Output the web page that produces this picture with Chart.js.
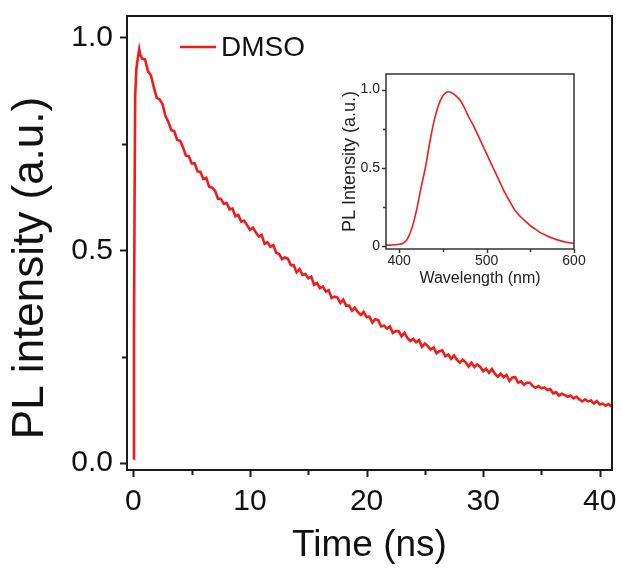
<!DOCTYPE html>
<html>
<head>
<meta charset="utf-8">
<script src="https://cdn.jsdelivr.net/npm/chart.js@4.4.0/dist/chart.umd.min.js"></script>
<style>
  html, body { margin: 0; padding: 0; background: #fff; }
  #wrap { position: relative; width: 621px; height: 572px; }
  #mainChart { position: absolute; left: 0; top: 0; }
  #insetChart { position: absolute; left: 330px; top: 60px; }
</style>
</head>
<body>
<div id="wrap">
  <canvas id="mainChart" width="621" height="572"></canvas>
  <canvas id="insetChart" width="270" height="240"></canvas>
</div>
<script>
// Main panel: PL decay in DMSO (noise included)
const timeNs = [
  0, 0.05, 0.1, 0.15, 0.25, 0.4, 0.5, 0.6, 0.75,
  1, 1.25, 1.5, 1.75, 2, 2.25, 2.5, 2.75, 3, 3.25, 3.5, 3.75, 4, 4.25, 4.5, 4.75,
  5, 5.25, 5.5, 5.75, 6, 6.25, 6.5, 6.75, 7, 7.25, 7.5, 7.75, 8, 8.25, 8.5, 8.75,
  9, 9.25, 9.5, 9.75, 10, 10.25, 10.5, 10.75, 11, 11.25, 11.5, 11.75, 12, 12.25, 12.5, 12.75,
  13, 13.25, 13.5, 13.75, 14, 14.25, 14.5, 14.75, 15, 15.25, 15.5, 15.75, 16, 16.25, 16.5, 16.75,
  17, 17.25, 17.5, 17.75, 18, 18.25, 18.5, 18.75, 19, 19.25, 19.5, 19.75, 20, 20.25, 20.5, 20.75,
  21, 21.25, 21.5, 21.75, 22, 22.25, 22.5, 22.75, 23, 23.25, 23.5, 23.75, 24, 24.25, 24.5, 24.75,
  25, 25.25, 25.5, 25.75, 26, 26.25, 26.5, 26.75, 27, 27.25, 27.5, 27.75, 28, 28.25, 28.5, 28.75,
  29, 29.25, 29.5, 29.75, 30, 30.25, 30.5, 30.75, 31, 31.25, 31.5, 31.75, 32, 32.25, 32.5, 32.75,
  33, 33.25, 33.5, 33.75, 34, 34.25, 34.5, 34.75, 35, 35.25, 35.5, 35.75, 36, 36.25, 36.5, 36.75,
  37, 37.25, 37.5, 37.75, 38, 38.25, 38.5, 38.75, 39, 39.25, 39.5, 39.75, 40, 40.25, 40.5, 40.75, 41
];
const plIntensity = [
  0.010, 0.300, 0.620, 0.860, 0.925, 0.955, 0.972, 0.958, 0.950,
  0.948, 0.920, 0.911, 0.883, 0.858, 0.854, 0.843, 0.815, 0.801, 0.782, 0.780, 0.759, 0.757, 0.742, 0.722, 0.721,
  0.704, 0.704, 0.685, 0.684, 0.667, 0.670, 0.649, 0.647, 0.640, 0.621, 0.621, 0.609, 0.611, 0.596, 0.598, 0.580,
  0.583, 0.567, 0.569, 0.559, 0.548, 0.553, 0.542, 0.532, 0.536, 0.515, 0.519, 0.508, 0.512, 0.494, 0.491, 0.479,
  0.483, 0.480, 0.465, 0.465, 0.448, 0.456, 0.442, 0.444, 0.434, 0.438, 0.419, 0.423, 0.411, 0.415, 0.403, 0.406,
  0.388, 0.391, 0.389, 0.376, 0.384, 0.370, 0.370, 0.358, 0.365, 0.355, 0.348, 0.355, 0.343, 0.344, 0.330, 0.338,
  0.336, 0.321, 0.323, 0.316, 0.321, 0.306, 0.310, 0.310, 0.298, 0.306, 0.294, 0.287, 0.292, 0.284, 0.289, 0.273,
  0.281, 0.275, 0.267, 0.272, 0.258, 0.263, 0.265, 0.251, 0.255, 0.245, 0.253, 0.243, 0.236, 0.243, 0.237, 0.227,
  0.236, 0.226, 0.232, 0.226, 0.216, 0.222, 0.212, 0.221, 0.210, 0.203, 0.210, 0.202, 0.207, 0.193, 0.201, 0.202,
  0.189, 0.192, 0.184, 0.189, 0.189, 0.181, 0.177, 0.181, 0.176, 0.178, 0.172, 0.174, 0.164, 0.167, 0.159, 0.163,
  0.160, 0.156, 0.159, 0.152, 0.156, 0.150, 0.145, 0.150, 0.145, 0.147, 0.140, 0.146, 0.138, 0.140, 0.135, 0.139, 0.133
];
const xMajor = [0, 10, 20, 30, 40];
const xMinor = [5, 15, 25, 35];
const yMajor = [0, 0.5, 1.0];
const yMinor = [0.25, 0.75];

// Inset: PL spectrum
const wavelength = [
  385, 390, 395, 400, 405, 410, 415, 420, 425, 430, 435, 440, 445, 450, 455, 460, 465,
  470, 475, 480, 485, 490, 495, 500, 505, 510, 515, 520, 525, 530, 535, 540, 545, 550,
  555, 560, 565, 570, 575, 580, 585, 590, 595, 600
];
const spectrum = [
  0.005, 0.005, 0.007, 0.010, 0.018, 0.050, 0.120, 0.230, 0.370, 0.500, 0.660, 0.800,
  0.900, 0.960, 0.985, 0.980, 0.960, 0.930, 0.880, 0.820, 0.770, 0.710, 0.650, 0.590,
  0.530, 0.470, 0.410, 0.350, 0.300, 0.250, 0.210, 0.180, 0.155, 0.130, 0.110, 0.090,
  0.075, 0.062, 0.050, 0.040, 0.032, 0.025, 0.020, 0.016
];
const insetXMajor = [400, 500, 600];
const insetXMinor = [450, 550];
const insetYMajor = [0, 0.5, 1.0];
const insetYMinor = [0.25, 0.75];

const RED = '#f21b1b';
const INK = '#111';
const FONT = "'Liberation Sans', Arial, sans-serif";

// box around the plot area + outward ticks (major and minor)
const frameTicks = {
  id: 'frameTicks',
  afterDatasetsDraw(chart, args, o) {
    const {ctx, chartArea: a, scales: {x, y}} = chart;
    ctx.save();
    ctx.strokeStyle = o.color;
    ctx.lineWidth = o.width;
    const mark = (scale, vals, len) => vals.forEach(v => {
      const p = Math.round(scale.getPixelForValue(v)) + 0.5;
      ctx.beginPath();
      if (scale.isHorizontal()) { ctx.moveTo(p, a.bottom); ctx.lineTo(p, a.bottom + len); }
      else { ctx.moveTo(a.left, p); ctx.lineTo(a.left - len, p); }
      ctx.stroke();
    });
    mark(x, o.xMajor, o.major); mark(x, o.xMinor, o.minor);
    mark(y, o.yMajor, o.major); mark(y, o.yMinor, o.minor);
    ctx.strokeRect(a.left, a.top, a.right - a.left, a.bottom - a.top);
    ctx.restore();
  }
};

// y title and legend for the main panel
const mainDecor = {
  id: 'mainDecor',
  afterDraw(chart) {
    const {ctx} = chart;
    ctx.save();
    ctx.fillStyle = INK;
    ctx.font = '44px ' + FONT;
    ctx.textAlign = 'center';
    ctx.textBaseline = 'middle';
    ctx.translate(31, 268);
    ctx.rotate(-Math.PI / 2);
    ctx.fillText('PL intensity (a.u.)', 0, 0);
    ctx.restore();

    ctx.save();
    ctx.strokeStyle = RED;
    ctx.lineWidth = 2.5;
    ctx.beginPath(); ctx.moveTo(180, 47); ctx.lineTo(216, 47); ctx.stroke();
    ctx.fillStyle = INK;
    ctx.font = '28px ' + FONT;
    ctx.textBaseline = 'middle';
    ctx.fillText(chart.data.datasets[0].label, 221, 48);
    ctx.restore();
  }
};

const noPad = s => { s.paddingLeft = 0; s.paddingRight = 0; s.paddingTop = 0; s.paddingBottom = 0; };

new Chart(document.getElementById('mainChart'), {
  type: 'line',
  data: {
    datasets: [{
      label: 'DMSO',
      data: timeNs.map((t, i) => ({x: t, y: plIntensity[i]})),
      borderColor: RED,
      borderWidth: 2.6,
      pointRadius: 0,
      tension: 0,
      fill: false
    }]
  },
  options: {
    responsive: false,
    animation: false,
    layout: {padding: {top: 16, right: 9, left: 0, bottom: 0}},
    scales: {
      x: {
        type: 'linear', min: -0.55, max: 41.05,
        afterBuildTicks: s => { s.ticks = xMajor.map(v => ({value: v})); },
        afterFit: s => { s.height = 102; noPad(s); },
        grid: {display: false, drawTicks: false},
        border: {display: false},
        ticks: {color: INK, padding: 14, maxRotation: 0, font: {family: FONT, size: 30}},
        title: {display: true, text: 'Time (ns)', color: INK, padding: {top: 0, bottom: 4},
                font: {family: FONT, size: 37}}
      },
      y: {
        type: 'linear', min: -0.016, max: 1.05,
        afterBuildTicks: s => { s.ticks = yMajor.map(v => ({value: v})); },
        afterFit: s => { s.width = 127; noPad(s); },
        grid: {display: false, drawTicks: false},
        border: {display: false},
        ticks: {color: INK, padding: 14, font: {family: FONT, size: 30},
                callback: v => v.toFixed(1)}
      }
    },
    plugins: {
      legend: {display: false},
      tooltip: {enabled: false},
      frameTicks: {color: '#1a1a1a', width: 2, major: 7, minor: 5,
                   xMajor, xMinor, yMajor, yMinor}
    }
  },
  plugins: [frameTicks, mainDecor]
});

new Chart(document.getElementById('insetChart'), {
  type: 'line',
  data: {
    datasets: [{
      label: 'PL spectrum',
      data: wavelength.map((w, i) => ({x: w, y: spectrum[i]})),
      borderColor: RED,
      borderWidth: 1.6,
      pointRadius: 0,
      tension: 0.3,
      fill: false
    }]
  },
  options: {
    responsive: false,
    animation: false,
    layout: {padding: {top: 14, right: 26, left: 0, bottom: 0}},
    scales: {
      x: {
        type: 'linear', min: 385, max: 600,
        afterBuildTicks: s => { s.ticks = insetXMajor.map(v => ({value: v})); },
        afterFit: s => { s.height = 51; noPad(s); },
        grid: {display: false, drawTicks: false},
        border: {display: false},
        ticks: {color: '#222', padding: 4, maxRotation: 0, font: {family: FONT, size: 14}},
        title: {display: true, text: 'Wavelength (nm)', color: '#222', padding: {top: 0, bottom: 12},
                font: {family: FONT, size: 16}}
      },
      y: {
        type: 'linear', min: -0.02, max: 1.1,
        afterBuildTicks: s => { s.ticks = insetYMajor.map(v => ({value: v})); },
        afterFit: s => { s.width = 56; noPad(s); },
        grid: {display: false, drawTicks: false},
        border: {display: false},
        ticks: {color: '#222', padding: 6, font: {family: FONT, size: 14},
                callback: v => (v === 0 ? '0' : v.toFixed(1))},
        title: {display: true, text: 'PL Intensity (a.u.)', color: '#222', padding: {top: 9, bottom: 0},
                font: {family: FONT, size: 18}}
      }
    },
    plugins: {
      legend: {display: false},
      tooltip: {enabled: false},
      frameTicks: {color: '#333', width: 1.5, major: 4, minor: 3,
                   xMajor: insetXMajor, xMinor: insetXMinor, yMajor: insetYMajor, yMinor: insetYMinor}
    }
  },
  plugins: [frameTicks]
});
</script>
</body>
</html>
